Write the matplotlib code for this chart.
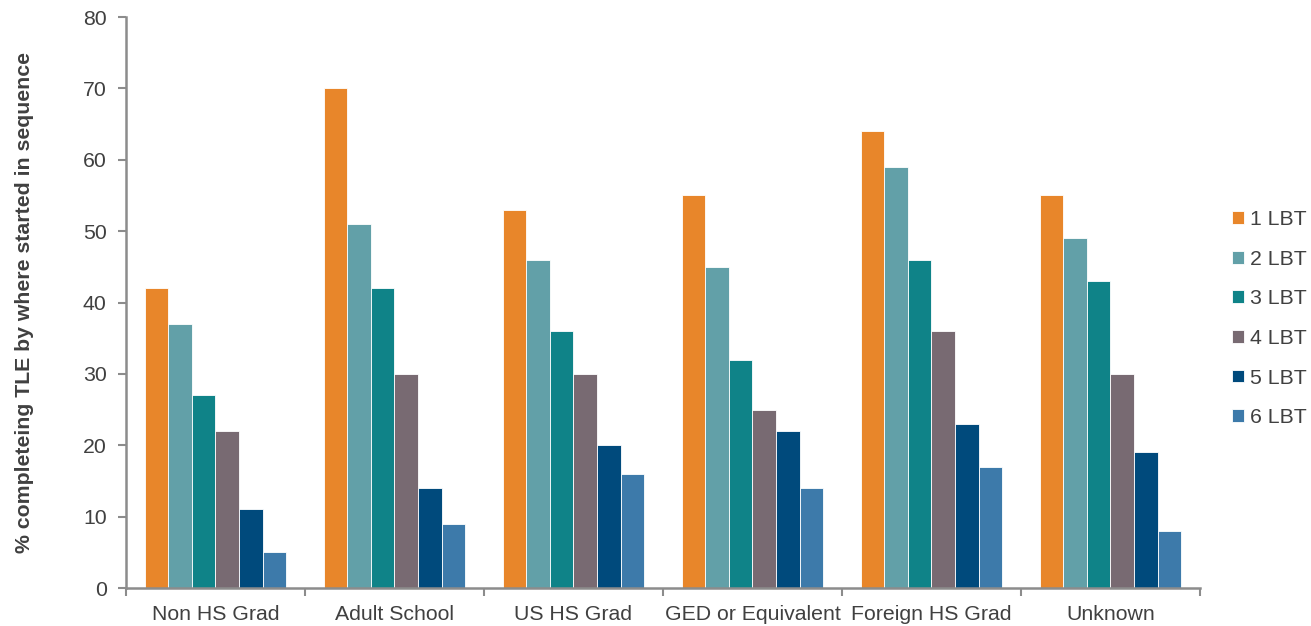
import numpy as np
import matplotlib.pyplot as plt

plt.rcParams['font.family'] = ['Liberation Sans', 'DejaVu Sans']

categories = ['Non HS Grad', 'Adult School', 'US HS Grad', 'GED or Equivalent',
              'Foreign HS Grad', 'Unknown']
series = ['1 LBT', '2 LBT', '3 LBT', '4 LBT', '5 LBT', '6 LBT']
lbt1 = [42, 70, 53, 55, 64, 55]
lbt2 = [37, 51, 46, 45, 59, 49]
lbt3 = [27, 42, 36, 32, 46, 43]
lbt4 = [22, 30, 30, 25, 36, 30]
lbt5 = [11, 14, 20, 22, 23, 19]
lbt6 = [5, 9, 16, 14, 17, 8]
values = [lbt1, lbt2, lbt3, lbt4, lbt5, lbt6]
colors = ['#E8862A', '#62A0A8', '#0F8388', '#786A72', '#004A7C', '#3D7AAA']

txt = '#404040'
axc = '#8C8C8C'

fig = plt.figure(figsize=(13.11, 6.26), dpi=100)
ax = fig.add_axes([0.0961, 0.0607, 0.8192, 0.9121])

x = np.arange(len(categories))
w = 0.132
for i, (vals, c, name) in enumerate(zip(values, colors, series)):
    ax.bar(x + (i - 2.5) * w, vals, w, color=c, edgecolor='white',
           linewidth=0.6, label=name, zorder=2)

ax.set_xlim(-0.5, len(categories) - 0.5)
ax.set_ylim(0, 80)
ax.set_yticks(range(0, 81, 10))
ax.set_xticks(x)
ax.set_xticklabels(categories)
ax.set_xticks(np.arange(-0.5, len(categories)), minor=True)
ax.tick_params(axis='x', which='major', length=0, pad=12, labelsize=15.3, colors=txt)
ax.tick_params(axis='x', which='minor', length=6, width=1.5, color=axc, direction='out')
ax.tick_params(axis='y', length=6, width=1.5, color=axc, labelsize=15.3,
               labelcolor=txt, pad=8)

for s in ['top', 'right']:
    ax.spines[s].set_visible(False)
for s in ['left', 'bottom']:
    ax.spines[s].set_color(axc)
    ax.spines[s].set_linewidth(1.8)

ax.set_ylabel('% completeing TLE by where started in sequence', fontsize=15.3,
              fontweight='bold', color=txt, labelpad=35)

leg = fig.legend(loc='center left', bbox_to_anchor=(0.9397, 0.491), frameon=False,
                 fontsize=15.3, handlelength=0.55, handleheight=0.55,
                 handletextpad=0.3, labelspacing=0.97, borderpad=0,
                 borderaxespad=0)
for t in leg.get_texts():
    t.set_color(txt)

plt.savefig('out.png', dpi=100)
